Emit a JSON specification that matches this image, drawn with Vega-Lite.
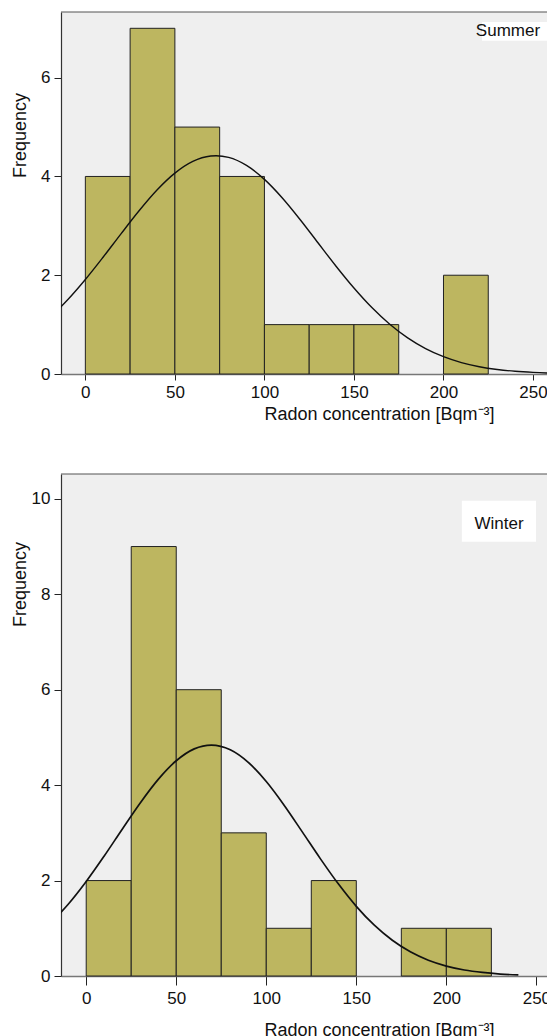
{
  "$schema": "https://vega.github.io/schema/vega-lite/v6.json",
  "padding": {"left": 11, "top": 11, "right": 0, "bottom": 0},
  "bounds": "flush",
  "spacing": 100,
  "background": "white",
  "config": {
    "font": "Liberation Sans",
    "view": {"fill": "#efefef", "stroke": null},
    "axis": {
      "labelFont": "Liberation Sans", "titleFont": "Liberation Sans",
      "labelFontSize": 17, "titleFontSize": 18, "titleFontWeight": "normal",
      "labelColor": "#111", "titleColor": "#111", "tickColor": "#222", "grid": false,
      "labelFlush": false, "labelOverlap": false
    }
  },
  "datasets": {
    "summerBins": [
      {"radon": 0, "radon_end": 25, "freq": 4},
      {"radon": 25, "radon_end": 50, "freq": 7},
      {"radon": 50, "radon_end": 75, "freq": 5},
      {"radon": 75, "radon_end": 100, "freq": 4},
      {"radon": 100, "radon_end": 125, "freq": 1},
      {"radon": 125, "radon_end": 150, "freq": 1},
      {"radon": 150, "radon_end": 175, "freq": 1},
      {"radon": 200, "radon_end": 225, "freq": 2}
    ],
    "winterBins": [
      {"radon": 0, "radon_end": 25, "freq": 2},
      {"radon": 25, "radon_end": 50, "freq": 9},
      {"radon": 50, "radon_end": 75, "freq": 6},
      {"radon": 75, "radon_end": 100, "freq": 3},
      {"radon": 100, "radon_end": 125, "freq": 1},
      {"radon": 125, "radon_end": 150, "freq": 2},
      {"radon": 175, "radon_end": 200, "freq": 1},
      {"radon": 200, "radon_end": 225, "freq": 1}
    ],
    "summerCurve": [
      {"radon": -20, "freq": 1.135}, {"radon": -10, "freq": 1.497}, {"radon": 0, "freq": 1.913},
      {"radon": 10, "freq": 2.369}, {"radon": 20, "freq": 2.843}, {"radon": 30, "freq": 3.305},
      {"radon": 40, "freq": 3.725}, {"radon": 50, "freq": 4.067}, {"radon": 60, "freq": 4.304},
      {"radon": 70, "freq": 4.414}, {"radon": 73, "freq": 4.42}, {"radon": 80, "freq": 4.386},
      {"radon": 90, "freq": 4.224}, {"radon": 100, "freq": 3.941}, {"radon": 110, "freq": 3.564},
      {"radon": 120, "freq": 3.124}, {"radon": 130, "freq": 2.652}, {"radon": 140, "freq": 2.183},
      {"radon": 150, "freq": 1.741}, {"radon": 160, "freq": 1.345}, {"radon": 170, "freq": 1.007},
      {"radon": 180, "freq": 0.731}, {"radon": 190, "freq": 0.514}, {"radon": 200, "freq": 0.350},
      {"radon": 210, "freq": 0.231}, {"radon": 220, "freq": 0.148}, {"radon": 230, "freq": 0.092},
      {"radon": 240, "freq": 0.055}, {"radon": 250, "freq": 0.032}, {"radon": 260, "freq": 0.018},
      {"radon": 270, "freq": 0.010}
    ],
    "winterCurve": [
      {"radon": -20, "freq": 1.101}, {"radon": -10, "freq": 1.504}, {"radon": 0, "freq": 1.981},
      {"radon": 10, "freq": 2.515}, {"radon": 20, "freq": 3.077}, {"radon": 30, "freq": 3.627},
      {"radon": 40, "freq": 4.121}, {"radon": 50, "freq": 4.511}, {"radon": 60, "freq": 4.760},
      {"radon": 69.5, "freq": 4.84}, {"radon": 80, "freq": 4.742}, {"radon": 90, "freq": 4.478},
      {"radon": 100, "freq": 4.075}, {"radon": 110, "freq": 3.574}, {"radon": 120, "freq": 3.020},
      {"radon": 130, "freq": 2.460}, {"radon": 140, "freq": 1.931}, {"radon": 150, "freq": 1.460},
      {"radon": 160, "freq": 1.064}, {"radon": 170, "freq": 0.748}, {"radon": 180, "freq": 0.506},
      {"radon": 190, "freq": 0.330}, {"radon": 200, "freq": 0.208}, {"radon": 210, "freq": 0.126},
      {"radon": 220, "freq": 0.074}, {"radon": 230, "freq": 0.041}, {"radon": 240, "freq": 0.022}
    ],
    "summerLabel": [{"label": "Summer"}],
    "winterLabel": [{"label": "Winter"}]
  },
  "vconcat": [
    {
      "width": 486,
      "height": 362,
      "layer": [
        {
          "data": {"name": "summerBins"},
          "mark": {"type": "rect", "fill": "#bdb660", "stroke": "#222", "strokeWidth": 1},
          "encoding": {
            "x": {
              "field": "radon", "type": "quantitative",
              "scale": {"domain": [-13.6, 257.8], "nice": false, "zero": false},
              "axis": {
                "values": [0, 50, 100, 150, 200, 250],
                "title": "Radon concentration [Bqm⁻³]",
                "titleX": 318, "titleY": 40, "titleAlign": "center", "titleBaseline": "middle",
                "tickSize": 6, "labelPadding": 4, "domainColor": "#777", "domainWidth": 1.5
              }
            },
            "x2": {"field": "radon_end"},
            "y": {
              "field": "freq", "type": "quantitative",
              "scale": {"domain": [0, 7.33], "nice": false},
              "axis": {
                "values": [0, 2, 4, 6],
                "title": "Frequency",
                "titleX": -41, "titleY": 123, "titleAngle": -90, "titleAlign": "center", "titleBaseline": "middle",
                "tickSize": 7, "labelPadding": 4, "domainColor": "#333", "domainWidth": 1.2
              }
            },
            "y2": {"datum": 0}
          }
        },
        {
          "data": {"name": "summerCurve"},
          "mark": {"type": "line", "color": "#111", "strokeWidth": 1.4, "clip": true, "interpolate": "monotone"},
          "encoding": {
            "x": {"field": "radon", "type": "quantitative"},
            "y": {"field": "freq", "type": "quantitative"}
          }
        },
        {
          "data": {"name": "summerLabel"},
          "mark": {"type": "rect", "fill": "white"},
          "encoding": {
            "x": {"datum": 221.5}, "x2": {"datum": 257.8},
            "y": {"datum": 7.13}, "y2": {"datum": 6.75}
          }
        },
        {
          "data": {"name": "summerLabel"},
          "mark": {"type": "text", "font": "Liberation Sans", "fontSize": 17, "color": "#111", "align": "center", "baseline": "middle"},
          "encoding": {
            "x": {"datum": 236},
            "y": {"datum": 6.94},
            "text": {"field": "label"}
          }
        },
        {
          "data": {"name": "summerLabel"},
          "mark": {"type": "rule", "color": "#555", "strokeWidth": 1.2},
          "encoding": {"y": {"datum": 7.33}}
        }
      ]
    },
    {
      "width": 486,
      "height": 502,
      "layer": [
        {
          "data": {"name": "winterBins"},
          "mark": {"type": "rect", "fill": "#bdb660", "stroke": "#222", "strokeWidth": 1},
          "encoding": {
            "x": {
              "field": "radon", "type": "quantitative",
              "scale": {"domain": [-14.0, 255.9], "nice": false, "zero": false},
              "axis": {
                "values": [0, 50, 100, 150, 200, 250],
                "title": "Radon concentration [Bqm⁻³]",
                "titleX": 318, "titleY": 54, "titleAlign": "center", "titleBaseline": "middle",
                "tickSize": 9, "labelPadding": 5, "domainColor": "#777", "domainWidth": 1.5
              }
            },
            "x2": {"field": "radon_end"},
            "y": {
              "field": "freq", "type": "quantitative",
              "scale": {"domain": [0, 10.52], "nice": false},
              "axis": {
                "values": [0, 2, 4, 6, 8, 10],
                "title": "Frequency",
                "titleX": -41, "titleY": 110, "titleAngle": -90, "titleAlign": "center", "titleBaseline": "middle",
                "tickSize": 7, "labelPadding": 4, "domainColor": "#333", "domainWidth": 1.2
              }
            },
            "y2": {"datum": 0}
          }
        },
        {
          "data": {"name": "winterCurve"},
          "mark": {"type": "line", "color": "#111", "strokeWidth": 1.7, "clip": true, "interpolate": "monotone"},
          "encoding": {
            "x": {"field": "radon", "type": "quantitative"},
            "y": {"field": "freq", "type": "quantitative"}
          }
        },
        {
          "data": {"name": "winterLabel"},
          "mark": {"type": "rect", "fill": "white"},
          "encoding": {
            "x": {"datum": 208.6}, "x2": {"datum": 249.8},
            "y": {"datum": 9.96}, "y2": {"datum": 9.10}
          }
        },
        {
          "data": {"name": "winterLabel"},
          "mark": {"type": "text", "font": "Liberation Sans", "fontSize": 17, "color": "#111", "align": "center", "baseline": "middle"},
          "encoding": {
            "x": {"datum": 229.3},
            "y": {"datum": 9.48},
            "text": {"field": "label"}
          }
        },
        {
          "data": {"name": "winterLabel"},
          "mark": {"type": "rule", "color": "#555", "strokeWidth": 1.2},
          "encoding": {"y": {"datum": 10.52}}
        }
      ]
    }
  ]
}
